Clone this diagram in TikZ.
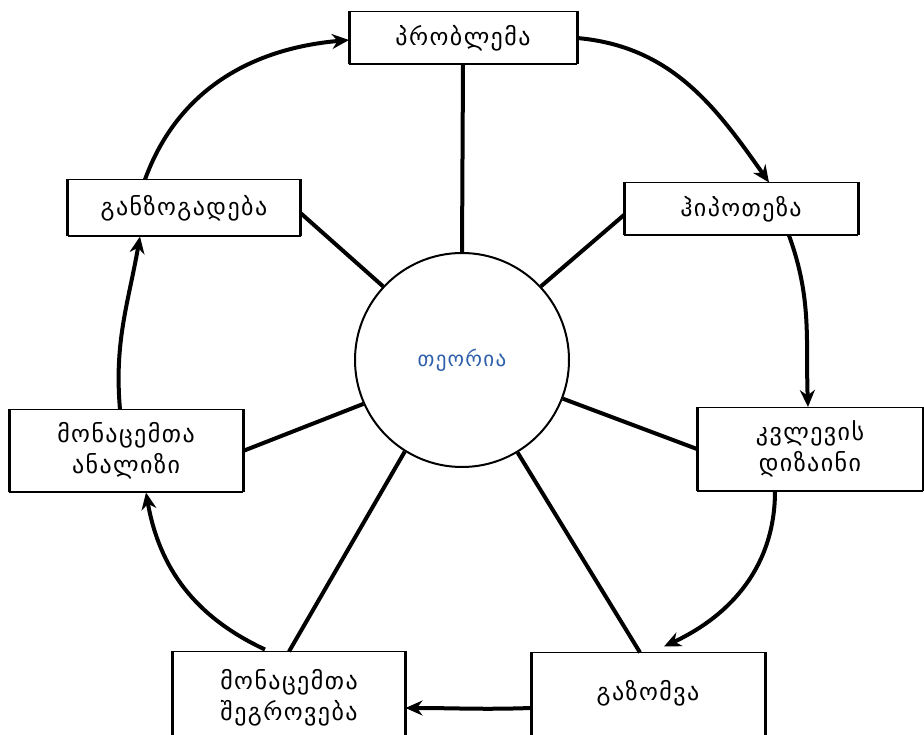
\documentclass[tikz,border=0pt]{standalone}
\usepackage{fontspec}
\newfontfamily\geo[LetterSpace=6]{DejaVu Sans}
\usetikzlibrary{arrows.meta}
\definecolor{theoblue}{RGB}{45,95,170}
\tikzset{
  stagebox/.style={draw=black,line width=1pt,fill=white,align=center,font=\geo\fontsize{24}{31}\selectfont,inner sep=0pt},
  spoke/.style={line width=4pt},
  cyc/.style={line width=4pt,-{Stealth[length=17pt,width=15pt]}}
}
\begin{document}
\begin{tikzpicture}[x=1pt,y=1pt]
\useasboundingbox (0,0) rectangle (924,734);
\clip (0,0) rectangle (924,734);
\fill[white] (0,0) rectangle (924,734);
% center
\node[circle,draw,line width=2pt,minimum size=214pt,inner sep=0pt,font=\geo\fontsize{21}{24}\selectfont,text=theoblue] (c) at (462,374) {თეორია};
% boxes
\node[stagebox,minimum width=227pt,minimum height=52pt] (b1) at (463,696) {პრობლემა};
\node[stagebox,minimum width=233pt,minimum height=52pt] (b2) at (741,525) {ჰიპოთეზა};
\node[stagebox,minimum width=225pt,minimum height=83pt] (b3) at (810,285) {კვლევის\\დიზაინი};
\node[stagebox,minimum width=233pt,minimum height=100pt] (b4) at (648,31) {};
\node[font=\geo\fontsize{24}{31}\selectfont] (t4) at (648,41) {გაზომვა};
\node[stagebox,minimum width=232pt,minimum height=92pt] (b5) at (289,36) {მონაცემთა\\შეგროვება};
\node[stagebox,minimum width=233pt,minimum height=82pt] (b6) at (126,283) {მონაცემთა\\ანალიზი};
\node[stagebox,minimum width=232pt,minimum height=56pt] (b7) at (184,526) {განზოგადება};
% thick side edges
\foreach \b in {b1,b2,b3,b4,b5,b6,b7}{
  \draw[line width=3pt] (\b.south west) -- (\b.north west);
  \draw[line width=3pt] (\b.south east) -- (\b.north east);
  \draw[line width=2pt] (\b.south west) -- (\b.south east);
}
% spokes
\draw[spoke] (c.north) -- (b1.south);
\draw[spoke] (c.43) -- ([yshift=-6pt]b2.west);
\draw[spoke] (c.-21) -- (b3.west);
\draw[spoke] (c.-59) -- ([xshift=-8pt]b4.north);
\draw[spoke] (c.-122) -- (b5.north);
\draw[spoke] (c.204) -- (b6.east);
\draw[spoke] (c.137) -- ([yshift=-5pt]b7.east);
% cycle arrows
\draw[cyc] (b1.east) to[out=-5,in=125] ([xshift=28pt]b2.north);
\draw[cyc] ([xshift=48pt]b2.south) to[out=-70,in=92] ([xshift=-2pt]b3.north);
\draw[cyc] ([xshift=-35pt]b3.south) to[out=-90,in=25] ([xshift=16pt,yshift=6pt]b4.north);
\draw[cyc] ([yshift=-5pt]b4.west) to[out=182,in=0] ([yshift=-10pt]b5.east);
\draw[cyc] ([xshift=-24pt,yshift=2pt]b5.north) to[out=155,in=-80] ([xshift=20pt]b6.south);
\draw[cyc] ([xshift=-6pt]b6.north) to[out=95,in=-100] ([xshift=-44pt]b7.south);
\draw[cyc] ([xshift=-39pt]b7.north) to[out=70,in=185] ([yshift=-2pt]b1.west);
\end{tikzpicture}
\end{document}
